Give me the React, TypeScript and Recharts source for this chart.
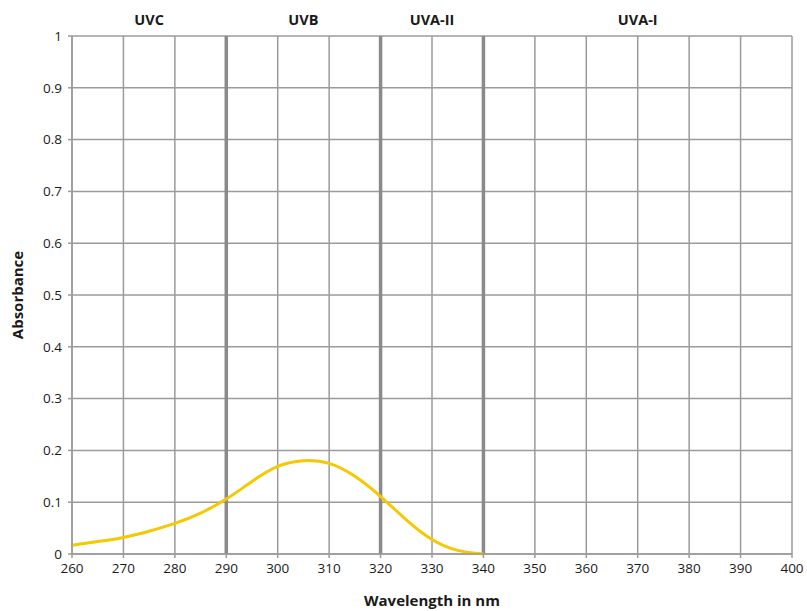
import React from 'react';
import { LineChart, Line, XAxis, YAxis, CartesianGrid, ReferenceLine, Label } from 'recharts';

// absorbance curve, read every 5 nm
const wavelengths = [260, 265, 270, 275, 280, 285, 290, 295, 300, 305, 310, 315, 320, 325, 330, 335, 340];
const absorbance = [0.017, 0.024, 0.032, 0.044, 0.059, 0.079, 0.106, 0.14, 0.169, 0.18, 0.175, 0.15, 0.111, 0.066, 0.028, 0.007, 0];

const xTicks = [260, 270, 280, 290, 300, 310, 320, 330, 340, 350, 360, 370, 380, 390, 400];
const yTicks = [0, 0.1, 0.2, 0.3, 0.4, 0.5, 0.6, 0.7, 0.8, 0.9, 1];

// UV bands: name and centre, boundaries between them
const bandNames = ['UVC', 'UVB', 'UVA-II', 'UVA-I'];
const bandCentres = [275, 305, 330, 370];
const bandEdges = [290, 320, 340];

const FONT = '"Open Sans", "Noto Sans", sans-serif';
const GRID = '#9b9b9b';

const data = wavelengths.map((w, i) => ({ w, a: absorbance[i] }));

const App: React.FC = () => {
  const tickStyle = { fontFamily: FONT, fontSize: 13.5, fill: '#1a1a1a' };
  return (
    <div style={{ position: 'absolute', left: 0, top: 0 }}>
      <LineChart width={807} height={611} data={data} margin={{ top: 0, right: 15, left: 0, bottom: 0 }}>
        <CartesianGrid stroke={GRID} strokeWidth={1.5} horizontalValues={yTicks} verticalValues={xTicks} />
        <XAxis
          xAxisId="top"
          orientation="top"
          type="number"
          dataKey="w"
          domain={[260, 400]}
          ticks={bandCentres}
          tickFormatter={(v: number) => bandNames[bandCentres.indexOf(v)]}
          axisLine={false}
          tickLine={false}
          tickSize={0}
          tickMargin={11}
          height={36}
          tick={{ fontFamily: FONT, fontSize: 14.5, fontWeight: 700, fill: '#1a1a1a' }}
        />
        <XAxis
          type="number"
          dataKey="w"
          domain={[260, 400]}
          ticks={xTicks}
          interval={0}
          stroke={GRID}
          strokeWidth={1.5}
          tickSize={4}
          tickMargin={5}
          height={57}
          tick={tickStyle}
        >
          <Label
            value="Wavelength in nm"
            position="insideBottom"
            offset={5}
            style={{ fontFamily: FONT, fontSize: 15, fontWeight: 700, fill: '#1a1a1a' }}
          />
        </XAxis>
        <YAxis
          type="number"
          domain={[0, 1]}
          ticks={yTicks}
          interval={0}
          width={72}
          stroke={GRID}
          strokeWidth={1.5}
          tickSize={4}
          tickMargin={6}
          tick={tickStyle}
        >
          <Label
            value="Absorbance"
            angle={-90}
            position="insideLeft"
            offset={18}
            style={{ fontFamily: FONT, fontSize: 15, fontWeight: 700, fill: '#1a1a1a', textAnchor: 'middle' }}
          />
        </YAxis>
        {bandEdges.map((e) => (
          <ReferenceLine key={e} x={e} stroke="#8a8a8a" strokeWidth={3.5} />
        ))}
        <Line
          type="natural"
          dataKey="a"
          stroke="#f5c800"
          strokeWidth={3}
          dot={false}
          isAnimationActive={false}
        />
      </LineChart>
    </div>
  );
};

export default App;
